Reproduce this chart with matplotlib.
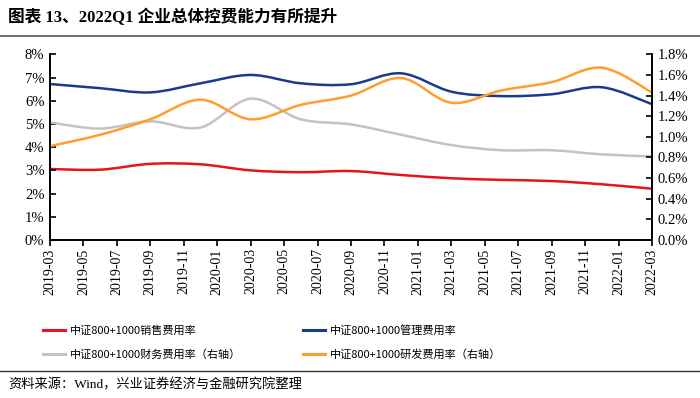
import matplotlib.pyplot as plt
import numpy as np
from matplotlib.lines import Line2D
from matplotlib.patches import PathPatch
from matplotlib.path import Path
from matplotlib.ticker import FuncFormatter


# quarterly observations, 2019-03 .. 2022-03 (month offsets from 2019-03)
MONTHS = [0, 3, 6, 9, 12, 15, 18, 21, 24, 27, 30, 33, 36]
SALES = [3.06, 3.03, 3.28, 3.26, 3.00, 2.92, 2.97, 2.80, 2.66, 2.59, 2.54, 2.40, 2.21]
ADMIN = [6.72, 6.54, 6.36, 6.75, 7.11, 6.75, 6.71, 7.18, 6.39, 6.20, 6.28, 6.58, 5.85]
FINANCE = [1.14, 1.08, 1.15, 1.09, 1.37, 1.17, 1.12, 1.02, 0.92, 0.87, 0.87, 0.83, 0.81]
RND = [0.91, 1.02, 1.17, 1.36, 1.17, 1.31, 1.40, 1.57, 1.33, 1.45, 1.53, 1.67, 1.43]

TICK_LABELS = [
    "2019-03", "2019-05", "2019-07", "2019-09", "2019-11", "2020-01", "2020-03",
    "2020-05", "2020-07", "2020-09", "2020-11", "2021-01", "2021-03", "2021-05",
    "2021-07", "2021-09", "2021-11", "2022-01", "2022-03",
]

LABELS = [
    "中证800+1000销售费用率",
    "中证800+1000管理费用率",
    "中证800+1000财务费用率（右轴）",
    "中证800+1000研发费用率（右轴）",
]
COLORS = ["#E8141C", "#1B3A8E", "#C3C3C3", "#FF9E2C"]

CJK = ["Noto Sans CJK SC", "DejaVu Sans"]
SERIF = ["Liberation Serif", "Noto Sans CJK SC"]


def smooth_path(x, y):
    # Excel-style smoothed line: Catmull-Rom segments as cubic Beziers
    x = np.asarray(x, float)
    y = np.asarray(y, float)
    px = np.concatenate([[x[0]], x, [x[-1]]])
    py = np.concatenate([[y[0]], y, [y[-1]]])
    verts = [(x[0], y[0])]
    codes = [Path.MOVETO]
    for i in range(1, len(x)):
        c1 = (px[i] + (px[i + 1] - px[i - 1]) / 6, py[i] + (py[i + 1] - py[i - 1]) / 6)
        c2 = (px[i + 1] - (px[i + 2] - px[i]) / 6, py[i + 1] - (py[i + 2] - py[i]) / 6)
        verts += [c1, c2, (px[i + 1], py[i + 1])]
        codes += [Path.CURVE4] * 3
    return Path(verts, codes)


def draw_smooth(ax, x, y, color):
    ax.add_patch(PathPatch(smooth_path(x, y), fill=False, edgecolor=color,
                           linewidth=1.8, capstyle="round", joinstyle="round"))


fig = plt.figure(figsize=(7.0, 3.98), dpi=100)
ax = fig.add_axes([50 / 700, 1 - 240 / 398, 602 / 700, (240 - 54.3) / 398])
ax2 = ax.twinx()

draw_smooth(ax, MONTHS, SALES, COLORS[0])
draw_smooth(ax, MONTHS, ADMIN, COLORS[1])
draw_smooth(ax2, MONTHS, FINANCE, COLORS[2])
draw_smooth(ax2, MONTHS, RND, COLORS[3])

ax.set_xlim(0, 36)
ax.set_ylim(0, 8)
ax2.set_ylim(0, 1.8)
ax.set_yticks(np.arange(0, 9, 1))
ax2.set_yticks(np.arange(0, 1.81, 0.2))
ax.yaxis.set_major_formatter(FuncFormatter(lambda v, _: f"{v:.0f}%"))
ax2.yaxis.set_major_formatter(FuncFormatter(lambda v, _: f"{v:.1f}%"))
ax.set_xticks(np.arange(0, 37, 2))
ax.set_xticklabels(TICK_LABELS, rotation=90, family=SERIF, fontsize=10)

for a in (ax, ax2):
    a.spines["top"].set_visible(False)
    for s in ("left", "right", "bottom"):
        a.spines[s].set_linewidth(1.2)
ax.tick_params(axis="x", direction="out", length=4, width=1.2, pad=2)
ax.tick_params(axis="y", direction="in", length=4, width=1.2, pad=4)
ax2.tick_params(axis="y", direction="in", length=4, width=1.2, pad=4)
for lbl in ax.get_yticklabels() + ax2.get_yticklabels():
    lbl.set_family(SERIF)
    lbl.set_fontsize(10.5)

handles = [Line2D([], [], color=c, linewidth=2.2) for c in COLORS]
order = [0, 2, 1, 3]
fig.legend([handles[i] for i in order], [LABELS[i] for i in order],
           loc="upper left", bbox_to_anchor=(43 / 700, 1 - 325 / 398), ncol=2,
           frameon=False, prop={"family": CJK, "size": 8}, handlelength=2.0,
           handletextpad=0.4, columnspacing=5.6, labelspacing=1.2,
           borderpad=0, borderaxespad=0)

fig.text(8 / 700, 1 - 17 / 398, "图表 13、2022Q1 企业总体控费能力有所提升",
         family=SERIF, fontsize=12, fontweight="bold", va="center", ha="left")
fig.add_artist(Line2D([0, 1], [1 - 36 / 398] * 2, color="#555555", linewidth=1.2))
fig.add_artist(Line2D([0, 1], [1 - 371 / 398] * 2, color="#333333", linewidth=1.0))
fig.text(8 / 700, 1 - 385 / 398, "资料来源：Wind，兴业证券经济与金融研究院整理",
         family=SERIF, fontsize=9.5, va="center", ha="left")

fig.savefig("out.png", dpi=100)
